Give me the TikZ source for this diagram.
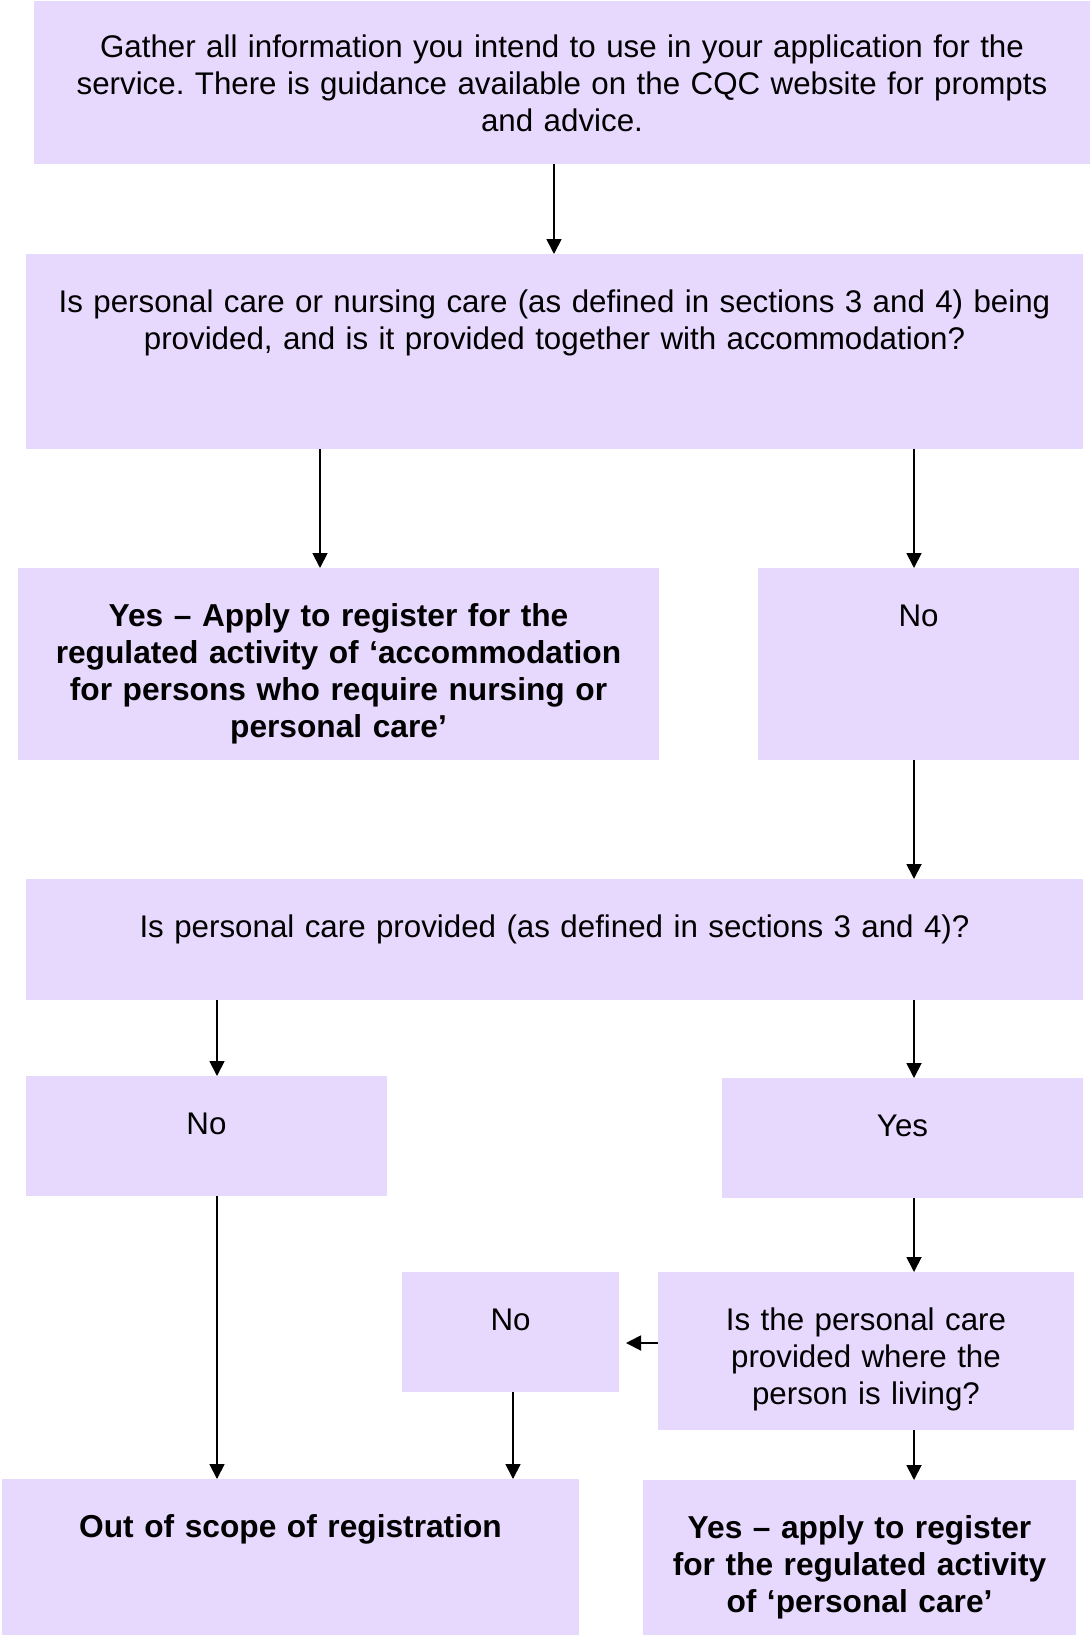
\documentclass[tikz,border=0pt]{standalone}
\usepackage{fontspec}
\setmainfont{Liberation Sans}
\usetikzlibrary{arrows.meta}
\definecolor{boxfill}{RGB}{231,216,253}
\frenchspacing
\begin{document}
\begin{tikzpicture}[x=1pt,y=-1pt,
  box/.style={fill=boxfill, draw=none, anchor=north west, inner sep=0pt, outer sep=0pt},
  txt/.style={anchor=base, inner sep=0pt, align=center, font=\fontsize{31.3}{37}\selectfont},
  btxt/.style={txt, font=\fontsize{31.7}{37}\selectfont\bfseries},
  arr/.style={-{Triangle[length=15pt,width=15pt]}, line width=1.8pt}]
\useasboundingbox (0,0) rectangle (1090,1635);

% boxes
\node[box, minimum width=1056pt, minimum height=163pt] (b1) at (34,1) {};
\node[box, minimum width=1057pt, minimum height=195pt] (b2) at (26,254) {};
\node[box, minimum width=641pt, minimum height=192pt] (b3) at (18,568) {};
\node[box, minimum width=321pt, minimum height=192pt] (b4) at (758,568) {};
\node[box, minimum width=1057pt, minimum height=121pt] (b5) at (26,879) {};
\node[box, minimum width=361pt, minimum height=120pt] (b6) at (26,1076) {};
\node[box, minimum width=361pt, minimum height=120pt] (b7) at (722,1078) {};
\node[box, minimum width=416pt, minimum height=158pt] (b8) at (658,1272) {};
\node[box, minimum width=217pt, minimum height=120pt] (b9) at (402,1272) {};
\node[box, minimum width=577pt, minimum height=156pt] (b10) at (2,1479) {};
\node[box, minimum width=433pt, minimum height=155pt] (b11) at (643,1480) {};

% texts
\node[txt, text width=1056pt] (t1) at ([yshift=-57pt]b1.north) {Gather all information you intend to use in your application for the\\ service. There is guidance available on the CQC website for prompts\\ and advice.};
\node[txt, text width=1057pt] (t2) at ([yshift=-58pt]b2.north) {Is personal care or nursing care (as defined in sections 3 and 4) being\\ provided, and is it provided together with accommodation?};
\node[btxt, text width=641pt] (t3) at ([yshift=-58pt]b3.north) {Yes – Apply to register for the\\ regulated activity of ‘accommodation\\ for persons who require nursing or\\ personal care’};
\node[txt, text width=321pt] (t4) at ([yshift=-58pt]b4.north) {No};
\node[txt, text width=1057pt] (t5) at ([yshift=-58pt]b5.north) {Is personal care provided (as defined in sections 3 and 4)?};
\node[txt, text width=361pt] (t6) at ([yshift=-58pt]b6.north) {No};
\node[txt, text width=361pt] (t7) at ([yshift=-58pt]b7.north) {Yes};
\node[txt, text width=416pt] (t8) at ([yshift=-58pt]b8.north) {Is the personal care\\ provided where the\\ person is living?};
\node[txt, text width=217pt] (t9) at ([yshift=-58pt]b9.north) {No};
\node[btxt, text width=577pt] (t10) at ([yshift=-58pt]b10.north) {Out of scope of registration};
\node[btxt, text width=433pt] (t11) at ([yshift=-58pt]b11.north) {Yes – apply to register\\ for the regulated activity\\ of ‘personal care’};

% connectors
\draw[arr] (b1.south -| 554,0) -- (b2.north -| 554,0);
\draw[arr] (b2.south -| 320,0) -- (b3.north -| 320,0);
\draw[arr] (b2.south -| 914,0) -- (b4.north -| 914,0);
\draw[arr] (b4.south -| 914,0) -- (b5.north -| 914,0);
\draw[arr] (b5.south -| 217,0) -- (b6.north -| 217,0);
\draw[arr] (b5.south -| 914,0) -- (b7.north -| 914,0);
\draw[arr] (b7.south -| 914,0) -- (b8.north -| 914,0);
\draw[arr, shorten >=7pt] (b8.west |- 0,1343) -- (b9.east |- 0,1343);
\draw[arr] (b6.south -| 217,0) -- (b10.north -| 217,0);
\draw[arr] (b9.south -| 513,0) -- (b10.north -| 513,0);
\draw[arr] (b8.south -| 914,0) -- (b11.north -| 914,0);
\end{tikzpicture}
\end{document}
